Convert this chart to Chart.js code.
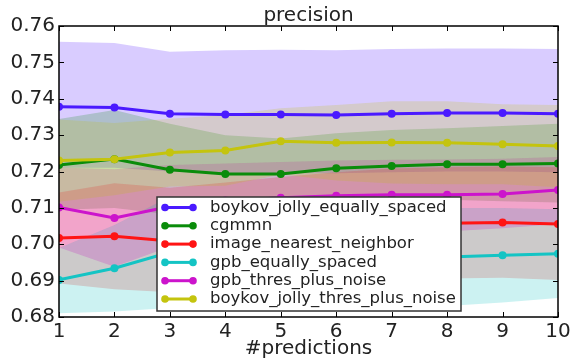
<!DOCTYPE html>
<html>
<head>
<meta charset="utf-8">
<script src="https://cdn.jsdelivr.net/npm/chart.js@4"></script>
<style>
  html, body { margin: 0; padding: 0; background: #fff; }
  #wrap { width: 575px; height: 358px; }
</style>
</head>
<body>
<div id="wrap"><canvas id="chart" width="575" height="358"></canvas></div>
<script>
const predictions = [1, 2, 3, 4, 5, 6, 7, 8, 9, 10];
const yTicks = [0.68, 0.69, 0.70, 0.71, 0.72, 0.73, 0.74, 0.75, 0.76];

const seriesNames = [
  'boykov_jolly_equally_spaced',
  'cgmmn',
  'image_nearest_neighbor',
  'gpb_equally_spaced',
  'gpb_thres_plus_noise',
  'boykov_jolly_thres_plus_noise'
];

// mean values
const boykovEq   = [0.7378, 0.7376, 0.7359, 0.7357, 0.7357, 0.7355, 0.7359, 0.7361, 0.7361, 0.7359];
const cgmmn      = [0.7218, 0.7234, 0.7205, 0.7193, 0.7193, 0.7209, 0.7215, 0.7220, 0.7220, 0.7222];
const nearest    = [0.7017, 0.7022, 0.7009, 0.7030, 0.7045, 0.7052, 0.7056, 0.7058, 0.7060, 0.7056];
const gpbEq      = [0.6902, 0.6934, 0.6978, 0.6972, 0.6968, 0.6965, 0.6964, 0.6965, 0.6970, 0.6974];
const gpbThres   = [0.7101, 0.7072, 0.7104, 0.7120, 0.7128, 0.7133, 0.7136, 0.7136, 0.7138, 0.7149];
const boykovThr  = [0.7230, 0.7234, 0.7252, 0.7258, 0.7283, 0.7279, 0.7280, 0.7279, 0.7275, 0.7270];

// shaded bands (upper / lower)
const boykovEqHi  = [0.7557, 0.7553, 0.7529, 0.7533, 0.7535, 0.7533, 0.7537, 0.7538, 0.7538, 0.7537];
const boykovEqLo  = [0.7210, 0.7210, 0.7200, 0.7195, 0.7195, 0.7195, 0.7198, 0.7200, 0.7200, 0.7198];
const cgmmnHi     = [0.7344, 0.7369, 0.7331, 0.7300, 0.7291, 0.7305, 0.7314, 0.7319, 0.7325, 0.7331];
const cgmmnLo     = [0.7095, 0.7100, 0.7082, 0.7088, 0.7098, 0.7115, 0.7118, 0.7122, 0.7118, 0.7115];
const nearestHi   = [0.7142, 0.7168, 0.7155, 0.7170, 0.7185, 0.7198, 0.7208, 0.7212, 0.7214, 0.7212];
const nearestLo   = [0.6892, 0.6876, 0.6868, 0.6895, 0.6910, 0.6909, 0.6907, 0.6906, 0.6908, 0.6902];
const gpbEqHi     = [0.6990, 0.7053, 0.7131, 0.7116, 0.7106, 0.7100, 0.7098, 0.7100, 0.7100, 0.7096];
const gpbEqLo     = [0.6810, 0.6815, 0.6825, 0.6828, 0.6830, 0.6830, 0.6830, 0.6830, 0.6840, 0.6852];
const gpbThresHi  = [0.7211, 0.7206, 0.7218, 0.7222, 0.7226, 0.7230, 0.7232, 0.7233, 0.7235, 0.7240];
const gpbThresLo  = [0.6991, 0.6938, 0.6993, 0.7020, 0.7031, 0.7036, 0.7040, 0.7035, 0.7044, 0.7056];
const boykovThrHi = [0.7343, 0.7333, 0.7345, 0.7355, 0.7374, 0.7383, 0.7393, 0.7393, 0.7385, 0.7383];
const boykovThrLo = [0.7117, 0.7135, 0.7159, 0.7161, 0.7192, 0.7175, 0.7167, 0.7165, 0.7165, 0.7157];

const means  = [boykovEq, cgmmn, nearest, gpbEq, gpbThres, boykovThr];
const uppers = [boykovEqHi, cgmmnHi, nearestHi, gpbEqHi, gpbThresHi, boykovThrHi];
const lowers = [boykovEqLo, cgmmnLo, nearestLo, gpbEqLo, gpbThresLo, boykovThrLo];

const lineColors = ['#4a1aff', '#0a8c0a', '#ff1414', '#14c4c4', '#cc14cc', '#c4c40e'];
const fillColors = [
  'rgba(64,0,255,0.2)', 'rgba(0,128,0,0.2)', 'rgba(255,0,0,0.2)',
  'rgba(0,191,191,0.2)', 'rgba(191,0,191,0.2)', 'rgba(191,191,0,0.2)'
];

const FONT = '"DejaVu Sans", sans-serif';
const pts = arr => arr.map((v, i) => ({ x: predictions[i], y: v }));
const n = means.length;

// Chart.js draws higher "order" first -> first series at the bottom, like matplotlib
const datasets = [];
means.forEach((m, i) => {
  datasets.push({ data: pts(lowers[i]), borderWidth: 0, pointRadius: 0, fill: false, order: 100 - i });
  datasets.push({ data: pts(uppers[i]), borderWidth: 0, pointRadius: 0, fill: '-1',
    backgroundColor: fillColors[i], order: 100 - i });
});
means.forEach((m, i) => {
  datasets.push({ label: seriesNames[i], data: pts(m), borderColor: lineColors[i],
    backgroundColor: lineColors[i], borderWidth: 3, pointRadius: 4, pointBorderWidth: 0,
    pointBackgroundColor: lineColors[i], fill: false, order: n - i });
});

const frame = {
  id: 'frame',
  afterDraw(chart) {
    const { ctx, chartArea: a, scales: { x, y } } = chart;
    ctx.save();
    ctx.strokeStyle = '#000';
    ctx.lineWidth = 1;
    ctx.beginPath();
    predictions.forEach(p => {
      const px = Math.round(x.getPixelForValue(p)) + 0.5;
      ctx.moveTo(px, a.top); ctx.lineTo(px, a.top + 5);
      ctx.moveTo(px, a.bottom); ctx.lineTo(px, a.bottom - 5);
    });
    yTicks.forEach(t => {
      const py = Math.round(y.getPixelForValue(t)) + 0.5;
      ctx.moveTo(a.left, py); ctx.lineTo(a.left + 5, py);
      ctx.moveTo(a.right, py); ctx.lineTo(a.right - 5, py);
    });
    ctx.stroke();
    ctx.lineWidth = 1.5;
    ctx.strokeRect(a.left, a.top, a.right - a.left, a.bottom - a.top);

    // title and axis label
    ctx.fillStyle = '#222';
    ctx.textAlign = 'center';
    ctx.textBaseline = 'alphabetic';
    ctx.font = '20px ' + FONT;
    ctx.fillText('precision', (a.left + a.right) / 2, 21);
    ctx.fillText('#predictions', (a.left + a.right) / 2, 354);

    // legend
    const L = { left: 157, top: 197, right: 461, bottom: 311 };
    ctx.fillStyle = '#fff';
    ctx.fillRect(L.left, L.top, L.right - L.left, L.bottom - L.top);
    ctx.strokeStyle = '#333';
    ctx.lineWidth = 1.5;
    ctx.strokeRect(L.left, L.top, L.right - L.left, L.bottom - L.top);
    ctx.font = '16.5px ' + FONT;
    ctx.textAlign = 'left';
    ctx.textBaseline = 'middle';
    seriesNames.forEach((name, i) => {
      const cy = L.top + 10.5 + i * 18.3;
      ctx.strokeStyle = lineColors[i];
      ctx.fillStyle = lineColors[i];
      ctx.lineWidth = 3;
      ctx.beginPath(); ctx.moveTo(165, cy); ctx.lineTo(193, cy); ctx.stroke();
      [165, 193].forEach(mx => { ctx.beginPath(); ctx.arc(mx, cy, 3.8, 0, Math.PI * 2); ctx.fill(); });
      ctx.fillStyle = '#222';
      ctx.fillText(name, 210, cy);
    });
    ctx.restore();
  }
};

new Chart(document.getElementById('chart'), {
  type: 'line',
  data: { datasets },
  options: {
    responsive: false,
    animation: false,
    layout: { padding: { top: 26, right: 17, left: 0, bottom: 0 } },
    plugins: { legend: { display: false }, tooltip: { enabled: false }, title: { display: false } },
    elements: { line: { tension: 0 } },
    scales: {
      x: {
        type: 'linear', min: 1, max: 10,
        afterFit: s => { s.height = 41; },
        afterBuildTicks: s => { s.ticks = predictions.map(v => ({ value: v })); },
        grid: { display: false, drawTicks: false },
        border: { display: false },
        ticks: { padding: 3, color: '#222', font: { family: FONT, size: 20 }, maxRotation: 0 }
      },
      y: {
        min: 0.68, max: 0.76,
        afterFit: s => { s.width = 59; },
        afterBuildTicks: s => { s.ticks = yTicks.map(v => ({ value: v })); },
        grid: { display: false, drawTicks: false },
        border: { display: false },
        ticks: { padding: 4, color: '#222', font: { family: FONT, size: 20 },
          callback: v => v.toFixed(2) }
      }
    }
  },
  plugins: [frame]
});
</script>
</body>
</html>
